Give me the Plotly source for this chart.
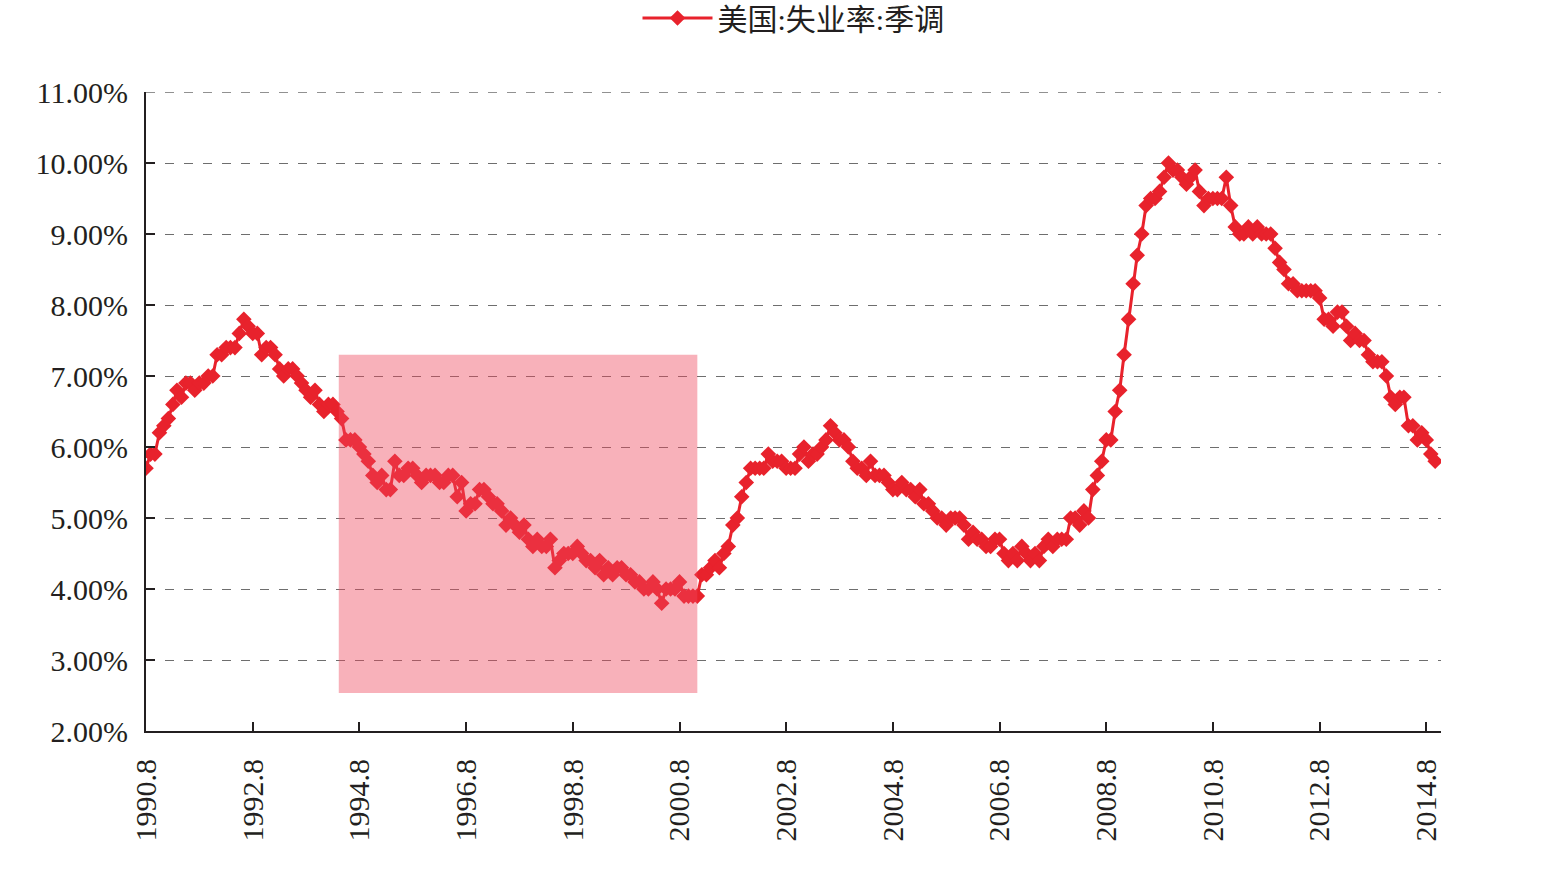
import plotly.graph_objects as go
import pandas as pd

# Monthly US unemployment rate (seasonally adjusted), %, from 1990.8
y1990 = [5.7, 5.9, 5.9, 6.2, 6.3]  # Aug-Dec
y1991 = [6.4, 6.6, 6.8, 6.7, 6.9, 6.9, 6.8, 6.9, 6.9, 7.0, 7.0, 7.3]
y1992 = [7.3, 7.4, 7.4, 7.4, 7.6, 7.8, 7.7, 7.6, 7.6, 7.3, 7.4, 7.4]
y1993 = [7.3, 7.1, 7.0, 7.1, 7.1, 7.0, 6.9, 6.8, 6.7, 6.8, 6.6, 6.5]
y1994 = [6.6, 6.6, 6.5, 6.4, 6.1, 6.1, 6.1, 6.0, 5.9, 5.8, 5.6, 5.5]
y1995 = [5.6, 5.4, 5.4, 5.8, 5.6, 5.6, 5.7, 5.7, 5.6, 5.5, 5.6, 5.6]
y1996 = [5.6, 5.5, 5.5, 5.6, 5.6, 5.3, 5.5, 5.1, 5.2, 5.2, 5.4, 5.4]
y1997 = [5.3, 5.2, 5.2, 5.1, 4.9, 5.0, 4.9, 4.8, 4.9, 4.7, 4.6, 4.7]
y1998 = [4.6, 4.6, 4.7, 4.3, 4.4, 4.5, 4.5, 4.5, 4.6, 4.5, 4.4, 4.4]
y1999 = [4.3, 4.4, 4.2, 4.3, 4.2, 4.3, 4.3, 4.2, 4.2, 4.1, 4.1, 4.0]
y2000 = [4.0, 4.1, 4.0, 3.8, 4.0, 4.0, 4.0, 4.1, 3.9, 3.9, 3.9, 3.9]
y2001 = [4.2, 4.2, 4.3, 4.4, 4.3, 4.5, 4.6, 4.9, 5.0, 5.3, 5.5, 5.7]
y2002 = [5.7, 5.7, 5.7, 5.9, 5.8, 5.8, 5.8, 5.7, 5.7, 5.7, 5.9, 6.0]
y2003 = [5.8, 5.9, 5.9, 6.0, 6.1, 6.3, 6.2, 6.1, 6.1, 6.0, 5.8, 5.7]
y2004 = [5.7, 5.6, 5.8, 5.6, 5.6, 5.6, 5.5, 5.4, 5.4, 5.5, 5.4, 5.4]
y2005 = [5.3, 5.4, 5.2, 5.2, 5.1, 5.0, 5.0, 4.9, 5.0, 5.0, 5.0, 4.9]
y2006 = [4.7, 4.8, 4.7, 4.7, 4.6, 4.6, 4.7, 4.7, 4.5, 4.4, 4.5, 4.4]
y2007 = [4.6, 4.5, 4.4, 4.5, 4.4, 4.6, 4.7, 4.6, 4.7, 4.7, 4.7, 5.0]
y2008 = [5.0, 4.9, 5.1, 5.0, 5.4, 5.6, 5.8, 6.1, 6.1, 6.5, 6.8, 7.3]
y2009 = [7.8, 8.3, 8.7, 9.0, 9.4, 9.5, 9.5, 9.6, 9.8, 10.0, 9.9, 9.9]
y2010 = [9.8, 9.7, 9.8, 9.9, 9.6, 9.4, 9.5, 9.5, 9.5, 9.5, 9.8, 9.4]
y2011 = [9.1, 9.0, 9.0, 9.1, 9.0, 9.1, 9.0, 9.0, 9.0, 8.8, 8.6, 8.5]
y2012 = [8.3, 8.3, 8.2, 8.2, 8.2, 8.2, 8.2, 8.1, 7.8, 7.8, 7.7, 7.9]
y2013 = [7.9, 7.7, 7.5, 7.6, 7.5, 7.5, 7.3, 7.2, 7.2, 7.2, 7.0, 6.7]
y2014 = [6.6, 6.7, 6.7, 6.3, 6.3, 6.1, 6.2, 6.1, 5.9, 5.8]  # Jan-Oct

values = (y1990 + y1991 + y1992 + y1993 + y1994 + y1995 + y1996 + y1997 + y1998
          + y1999 + y2000 + y2001 + y2002 + y2003 + y2004 + y2005 + y2006 + y2007
          + y2008 + y2009 + y2010 + y2011 + y2012 + y2013 + y2014)
dates = pd.date_range("1990-08-01", periods=len(values), freq="MS")

tick_labels = ["1990.8", "1992.8", "1994.8", "1996.8", "1998.8", "2000.8",
               "2002.8", "2004.8", "2006.8", "2008.8", "2010.8", "2012.8", "2014.8"]
tick_dates = [f"{lbl.split('.')[0]}-08-01" for lbl in tick_labels]

series_name = "美国:失业率:季调"
RED = "#E8222C"
FONT = "Liberation Serif, Noto Sans CJK SC, serif"
TXT = "#231F20"
GRID = "#6E6E6E"

fig = go.Figure()
fig.add_trace(go.Scatter(
    x=dates, y=values, mode="lines+markers", name=series_name,
    line=dict(color=RED, width=3),
    marker=dict(symbol="diamond", size=12, color=RED),
))

# highlighted period
fig.add_shape(type="rect", xref="x", yref="y",
              x0="1994-03-13", x1="2000-12-01", y0=2.535, y1=7.30,
              fillcolor="rgba(238,70,90,0.42)", line=dict(width=0), layer="above")

# top gridline at 11%
fig.add_shape(type="line", xref="paper", yref="y", x0=0, x1=1, y0=11, y1=11,
              line=dict(color=GRID, width=1.3, dash="9px,10px"), layer="below")

fig.update_layout(
    width=1541, height=887,
    margin=dict(l=146, r=100, t=92, b=156, autoexpand=False),
    paper_bgcolor="white", plot_bgcolor="white",
    font=dict(family=FONT, color=TXT, size=30),
    showlegend=True,
    legend=dict(orientation="h", x=0.50, xanchor="center", y=0.9797, yref="container",
                yanchor="middle", font=dict(size=30, family=FONT, color=TXT), itemwidth=70,
                bgcolor="rgba(0,0,0,0)"),
    xaxis=dict(
        type="date", range=["1990-08-01", "2014-11-10"],
        tickvals=tick_dates, ticktext=tick_labels, tickangle=-90,
        ticks="inside", ticklen=9, tickwidth=1.5, tickcolor=TXT,
        showline=True, linecolor=TXT, linewidth=2,
        showgrid=False, zeroline=False, ticklabelstandoff=14,
        tickfont=dict(size=30, family=FONT, color=TXT),
    ),
    yaxis=dict(
        range=[2, 11], dtick=1, tick0=2, tickformat=".2f", ticksuffix="%",
        ticks="inside", ticklen=9, tickwidth=1.5, tickcolor=TXT,
        showline=True, linecolor=TXT, linewidth=2,
        showgrid=True, gridcolor=GRID, gridwidth=1.3, griddash="9px,10px",
        zeroline=False, ticklabelstandoff=10,
        tickfont=dict(size=30, family=FONT, color=TXT),
    ),
)

fig.write_html("out.html")
